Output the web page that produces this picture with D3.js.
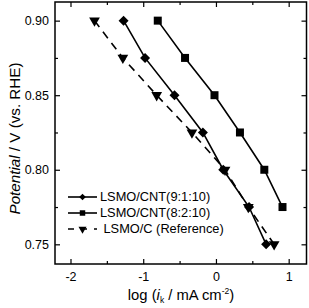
<!DOCTYPE html>
<html><head><meta charset="utf-8">
<script src="https://cdn.jsdelivr.net/npm/d3@7"></script>
<style>body{margin:0;background:#fff}svg{display:block}text{font-family:"Liberation Sans",Arial,sans-serif}</style>
</head><body>
<script>
const potentials = [0.90, 0.875, 0.85, 0.825, 0.80, 0.775, 0.75];
const cnt910 = [-1.27, -0.975, -0.57, -0.18, 0.10, 0.455, 0.69];
const cnt820Pot = [0.90, 0.875, 0.85, 0.825, 0.80, 0.775];
const cnt820 = [-0.80, -0.425, -0.02, 0.33, 0.665, 0.915];
const refC = [-1.67, -1.28, -0.815, -0.33, 0.125, 0.445, 0.80];
const seriesNames = ["LSMO/CNT(9:1:10)", "LSMO/CNT(8:2:10)", "LSMO/C (Reference)"];
const xTicks = [-2, -1, 0, 1];
const yTicks = [0.75, 0.80, 0.85, 0.90];

(function () {
const W = 309, H = 308;
const m = {l: 55, r: 2.5, t: 2, b: 44};
const svg = d3.select("body").append("svg").attr("width", W).attr("height", H);
const x = d3.scaleLinear().domain([-2.213, 1.245]).range([m.l, W - m.r]);
const y = d3.scaleLinear().domain([0.7368, 0.9125]).range([H - m.b, m.t]);

const series = [
  {name: seriesNames[0], xs: cnt910, ys: potentials, sym: d3.symbolSquare, size: 50, rot: 45, lsize: 22, dash: null},
  {name: seriesNames[1], xs: cnt820, ys: cnt820Pot, sym: d3.symbolSquare, size: 64, rot: 0, lsize: 30, dash: null},
  {name: seriesNames[2], xs: refC, ys: potentials, sym: d3.symbolTriangle, size: 50, rot: 180, lsize: 28, dash: "8,6"}
];

const line = d3.line().x(d => x(d[0])).y(d => y(d[1]));
series.forEach(s => {
  const pts = s.xs.map((v, i) => [v, s.ys[i]]);
  svg.append("path").attr("d", line(pts)).attr("fill", "none").attr("stroke", "#000")
    .attr("stroke-width", 1.6).attr("stroke-dasharray", s.dash);
  svg.selectAll(null).data(pts).enter().append("path")
    .attr("d", d3.symbol().type(s.sym).size(s.size))
    .attr("transform", d => `translate(${x(d[0])},${y(d[1])}) rotate(${s.rot})`)
    .attr("fill", "#000");
});

const xMinor = d3.range(-2, 1.01, 0.5).filter(v => !xTicks.includes(v));
const yMinor = [0.775, 0.825, 0.875];
const fmtY = d3.format(".2f");
svg.append("g").attr("transform", `translate(0,${H - m.b})`)
  .call(d3.axisBottom(x).tickValues(xTicks).tickSizeInner(-5).tickSizeOuter(0).tickPadding(8).tickFormat(d => String(d)));
svg.append("g").attr("transform", `translate(0,${m.t})`)
  .call(d3.axisTop(x).tickValues(xTicks).tickSizeInner(-5).tickSizeOuter(0).tickFormat(""));
svg.append("g").attr("transform", `translate(${m.l},0)`)
  .call(d3.axisLeft(y).tickValues(yTicks).tickSizeInner(-5).tickSizeOuter(0).tickPadding(6).tickFormat(fmtY));
svg.append("g").attr("transform", `translate(${W - m.r},0)`)
  .call(d3.axisRight(y).tickValues(yTicks).tickSizeInner(-5).tickSizeOuter(0).tickFormat(""));
svg.append("g").attr("transform", `translate(0,${H - m.b})`).call(d3.axisBottom(x).tickValues(xMinor).tickSize(-3).tickFormat(""));
svg.append("g").attr("transform", `translate(0,${m.t})`).call(d3.axisTop(x).tickValues(xMinor).tickSize(-3).tickFormat(""));
svg.append("g").attr("transform", `translate(${m.l},0)`).call(d3.axisLeft(y).tickValues(yMinor).tickSize(-3).tickFormat(""));
svg.append("g").attr("transform", `translate(${W - m.r},0)`).call(d3.axisRight(y).tickValues(yMinor).tickSize(-3).tickFormat(""));
svg.selectAll(".domain").remove();
svg.selectAll(".tick line").attr("stroke", "#000").attr("stroke-width", 1.2);
svg.selectAll(".tick text").attr("font-size", 12.5).attr("fill", "#000").attr("font-family", '"Liberation Sans",Arial,sans-serif');
svg.append("rect").attr("x", m.l).attr("y", m.t).attr("width", W - m.r - m.l).attr("height", H - m.b - m.t)
  .attr("fill", "none").attr("stroke", "#000").attr("stroke-width", 1.5);

const lg = svg.append("g");
series.forEach((s, i) => {
  const ly = 197 + i * 16;
  lg.append("line").attr("x1", 68).attr("x2", 97).attr("y1", ly).attr("y2", ly)
    .attr("stroke", "#000").attr("stroke-width", 1.6).attr("stroke-dasharray", s.dash ? "6,7" : null);
  lg.append("path").attr("d", d3.symbol().type(s.sym).size(s.lsize))
    .attr("transform", `translate(82.5,${ly}) rotate(${s.rot})`).attr("fill", "#000");
  lg.append("text").attr("x", i === 2 ? 103.5 : 100).attr("y", ly).attr("dy", "0.35em")
    .attr("font-size", 12.8).text(s.name);
});

const xt = svg.append("text").attr("x", 181).attr("y", 299.5).attr("text-anchor", "middle").attr("font-size", 14.8);
xt.append("tspan").text("log (");
xt.append("tspan").attr("font-style", "italic").text("i");
xt.append("tspan").attr("font-size", 8.5).attr("dy", 3).text("k");
xt.append("tspan").attr("dy", -3).text(" / mA cm");
xt.append("tspan").attr("font-size", 8.5).attr("dy", -6).text("-2");
xt.append("tspan").attr("dy", 6).text(")");

const yt = svg.append("text").attr("transform", "translate(19.5,138.5) rotate(-90)").attr("text-anchor", "middle").attr("font-size", 15.2);
yt.append("tspan").attr("font-style", "italic").text("Potential");
yt.append("tspan").text(" / V (vs. RHE)");
})();
</script>
</body></html>
